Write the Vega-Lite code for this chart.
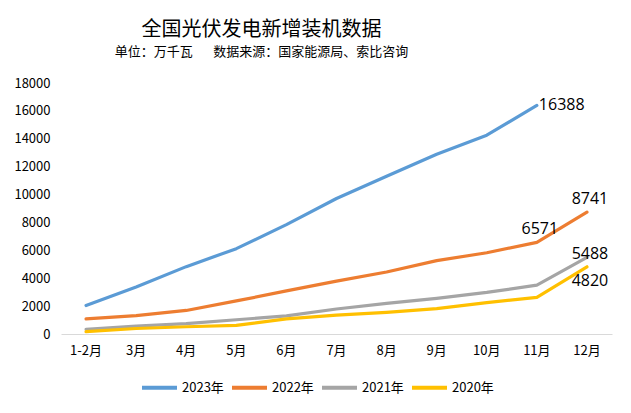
{
  "$schema": "https://vega.github.io/schema/vega-lite/v6.json",
  "width": 551,
  "height": 251,
  "autosize": {"type": "none"},
  "padding": {"left": 61, "top": 83, "right": 19, "bottom": 79},
  "background": "white",
  "title": {
    "text": "全国光伏发电新增装机数据",
    "subtitle": "单位：万千瓦\u00a0\u00a0\u00a0\u00a0\u00a0\u00a0\u00a0数据来源：国家能源局、索比咨询",
    "anchor": "middle",
    "dx": -75,
    "offset": 18,
    "font": "Noto Sans CJK SC",
    "fontSize": 20,
    "fontWeight": "normal",
    "color": "#000000",
    "subtitleFont": "Noto Sans CJK SC",
    "subtitleFontSize": 13,
    "subtitleColor": "#000000",
    "subtitlePadding": 6
  },
  "config": {
    "view": {"stroke": null},
    "font": "Noto Sans CJK SC"
  },
  "data": {
    "values": [
      {"month": "1-2月", "year": "2023年", "value": 2043},
      {"month": "3月", "year": "2023年", "value": 3366},
      {"month": "4月", "year": "2023年", "value": 4831},
      {"month": "5月", "year": "2023年", "value": 6121},
      {"month": "6月", "year": "2023年", "value": 7842},
      {"month": "7月", "year": "2023年", "value": 9716},
      {"month": "8月", "year": "2023年", "value": 11316},
      {"month": "9月", "year": "2023年", "value": 12894},
      {"month": "10月", "year": "2023年", "value": 14256},
      {"month": "11月", "year": "2023年", "value": 16388},
      {"month": "1-2月", "year": "2022年", "value": 1086},
      {"month": "3月", "year": "2022年", "value": 1321},
      {"month": "4月", "year": "2022年", "value": 1688},
      {"month": "5月", "year": "2022年", "value": 2371},
      {"month": "6月", "year": "2022年", "value": 3088},
      {"month": "7月", "year": "2022年", "value": 3788},
      {"month": "8月", "year": "2022年", "value": 4447},
      {"month": "9月", "year": "2022年", "value": 5260},
      {"month": "10月", "year": "2022年", "value": 5824},
      {"month": "11月", "year": "2022年", "value": 6571},
      {"month": "12月", "year": "2022年", "value": 8741},
      {"month": "1-2月", "year": "2021年", "value": 340},
      {"month": "3月", "year": "2021年", "value": 560},
      {"month": "4月", "year": "2021年", "value": 740},
      {"month": "5月", "year": "2021年", "value": 1020},
      {"month": "6月", "year": "2021年", "value": 1301},
      {"month": "7月", "year": "2021年", "value": 1793},
      {"month": "8月", "year": "2021年", "value": 2195},
      {"month": "9月", "year": "2021年", "value": 2556},
      {"month": "10月", "year": "2021年", "value": 2980},
      {"month": "11月", "year": "2021年", "value": 3510},
      {"month": "12月", "year": "2021年", "value": 5488},
      {"month": "1-2月", "year": "2020年", "value": 170},
      {"month": "3月", "year": "2020年", "value": 395},
      {"month": "4月", "year": "2020年", "value": 520},
      {"month": "5月", "year": "2020年", "value": 620},
      {"month": "6月", "year": "2020年", "value": 1080},
      {"month": "7月", "year": "2020年", "value": 1355},
      {"month": "8月", "year": "2020年", "value": 1548},
      {"month": "9月", "year": "2020年", "value": 1820},
      {"month": "10月", "year": "2020年", "value": 2250},
      {"month": "11月", "year": "2020年", "value": 2620},
      {"month": "12月", "year": "2020年", "value": 4820}
    ]
  },
  "encoding": {
    "x": {
      "field": "month",
      "type": "ordinal",
      "sort": ["1-2月", "3月", "4月", "5月", "6月", "7月", "8月", "9月", "10月", "11月", "12月"],
      "scale": {"type": "band", "paddingInner": 0, "paddingOuter": 0},
      "axis": {
        "title": null,
        "labelAngle": 0,
        "ticks": false,
        "domainColor": "#D9D9D9",
        "domainWidth": 1,
        "labelFontSize": 13,
        "labelColor": "#000000",
        "labelPadding": 10,
        "labelFont": "Noto Sans CJK SC"
      }
    },
    "y": {
      "field": "value",
      "type": "quantitative",
      "scale": {"domain": [0, 18000], "nice": false},
      "axis": {
        "title": null,
        "values": [0, 2000, 4000, 6000, 8000, 10000, 12000, 14000, 16000, 18000],
        "format": "d",
        "grid": false,
        "domain": false,
        "ticks": false,
        "labelFontSize": 13,
        "labelColor": "#000000",
        "labelPadding": 11,
        "labelFont": "Noto Sans CJK SC"
      }
    }
  },
  "layer": [
    {
      "mark": {"type": "line", "strokeWidth": 3.2, "strokeCap": "round", "strokeJoin": "round"},
      "encoding": {
        "color": {
          "field": "year",
          "type": "nominal",
          "scale": {
            "domain": ["2023年", "2022年", "2021年", "2020年"],
            "range": ["#5B9BD5", "#ED7D31", "#A5A5A5", "#FFC000"]
          },
          "legend": {
            "title": null,
            "orient": "none",
            "legendX": 79,
            "legendY": 285,
            "direction": "horizontal",
            "symbolType": "stroke",
            "symbolSize": 1225,
            "symbolStrokeWidth": 4,
            "labelFontSize": 13,
            "labelColor": "#000000",
            "labelFont": "Noto Sans CJK SC",
            "labelOffset": 3,
            "columnPadding": 0
          }
        }
      }
    },
    {
      "transform": [{"filter": "datum.year === '2023年' && datum.month === '11月'"}],
      "mark": {"type": "text", "align": "left", "baseline": "middle", "dx": 2, "dy": 0, "fontSize": 16, "font": "Open Sans", "color": "#000000"},
      "encoding": {"text": {"field": "value", "type": "quantitative"}}
    },
    {
      "transform": [{"filter": "datum.year === '2022年' && (datum.month === '11月' || datum.month === '12月')"}],
      "mark": {"type": "text", "align": "center", "baseline": "middle", "dx": 3, "dy": -13, "fontSize": 16, "font": "Open Sans", "color": "#000000"},
      "encoding": {"text": {"field": "value", "type": "quantitative"}}
    },
    {
      "transform": [{"filter": "datum.year === '2021年' && datum.month === '12月'"}],
      "mark": {"type": "text", "align": "center", "baseline": "middle", "dx": 3, "dy": -3, "fontSize": 16, "font": "Open Sans", "color": "#000000"},
      "encoding": {"text": {"field": "value", "type": "quantitative"}}
    },
    {
      "transform": [{"filter": "datum.year === '2020年' && datum.month === '12月'"}],
      "mark": {"type": "text", "align": "center", "baseline": "middle", "dx": 3, "dy": 14, "fontSize": 16, "font": "Open Sans", "color": "#000000"},
      "encoding": {"text": {"field": "value", "type": "quantitative"}}
    }
  ]
}
